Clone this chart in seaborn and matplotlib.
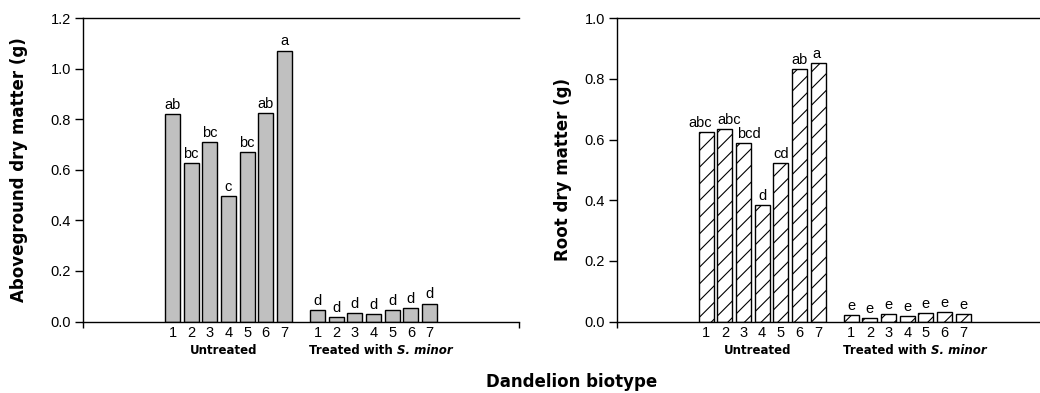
import matplotlib
matplotlib.use("Agg")
import matplotlib.pyplot as plt
import matplotlib.transforms as mtransforms
import numpy as np
import pandas as pd
import seaborn as sns

# ---------------- data ----------------
biotypes = ["1", "2", "3", "4", "5", "6", "7"]
groups = ["Untreated", "Treated with S. minor"]

above_untreated = [0.821, 0.626, 0.709, 0.497, 0.669, 0.823, 1.072]
above_treated = [0.045, 0.018, 0.034, 0.030, 0.045, 0.053, 0.071]
above_letters_untreated = ["ab", "bc", "bc", "c", "bc", "ab", "a"]
above_letters_treated = ["d", "d", "d", "d", "d", "d", "d"]

root_untreated = [0.624, 0.635, 0.588, 0.385, 0.522, 0.831, 0.851]
root_treated = [0.021, 0.010, 0.024, 0.018, 0.027, 0.030, 0.026]
root_letters_untreated = ["abc", "abc", "bcd", "d", "cd", "ab", "a"]
root_letters_treated = ["e", "e", "e", "e", "e", "e", "e"]

# ---------------- style ----------------
sns.set_style("ticks")
plt.rcParams["font.family"] = ["Liberation Sans", "DejaVu Sans"]
plt.rcParams["hatch.linewidth"] = 0.8
plt.rcParams["hatch.color"] = "black"
for k in ["text.color", "axes.labelcolor", "xtick.color", "ytick.color",
          "axes.edgecolor"]:
    plt.rcParams[k] = "black"
BOLD = ["DejaVu Sans"]

GROUP_GAP = 1.77  # distance between last bar of group 1 and first of group 2
pos_g1 = np.arange(len(biotypes), dtype=float)
pos_g2 = pos_g1[-1] + GROUP_GAP + np.arange(len(biotypes), dtype=float)
XLIM = (-4.79, -4.79 + 23.35)

fig = plt.figure(figsize=(10.4, 3.93), dpi=100)
ax1 = fig.add_axes([83 / 1040, 71.5 / 393, 436 / 1040, 303.3 / 393])
ax2 = fig.add_axes([616.7 / 1040, 71.5 / 393, 436 / 1040, 303.3 / 393])


def draw_panel(ax, vals_u, vals_t, let_u, let_t, ymax, ystep, ylabel, fill,
               hatch, labelpad, let_dx):
    df = pd.DataFrame({
        "pos": np.concatenate([pos_g1, pos_g2]),
        "value": vals_u + vals_t,
        "biotype": biotypes + biotypes,
        "group": [groups[0]] * 7 + [groups[1]] * 7,
    })
    sns.barplot(data=df, x="pos", y="value", native_scale=True, width=0.8,
                color=fill, saturation=1, edgecolor="black", linewidth=1.0,
                errorbar=None, hatch=hatch, ax=ax)
    ax.set_xlim(*XLIM)
    ax.set_ylim(0, ymax)
    yt = np.arange(0, ymax + 1e-9, ystep)
    ax.set_yticks(yt)
    ax.set_yticklabels([f"{v:.1f}" for v in yt], fontsize=10.5)
    ax.tick_params(axis="y", direction="out", length=5.5, width=1, pad=3,
                   colors="black")

    # significance letters
    for i, (x, v, l) in enumerate(zip(df["pos"], df["value"], let_u + let_t)):
        ax.annotate(l, (x, v), xytext=(let_dx[i], 1.5), textcoords="offset points",
                    ha="center", va="bottom", fontsize=10.5, color="black")

    # biotype numbers as tick labels (no tick marks)
    ax.set_xticks(list(pos_g1) + list(pos_g2))
    ax.set_xticklabels(biotypes + biotypes, fontsize=10.5)
    ax.tick_params(axis="x", which="major", length=0, pad=3, colors="black")
    # minor tick marks at group centres and axis ends
    ax.set_xticks([XLIM[0], pos_g1[3], pos_g2[3], XLIM[1]], minor=True)
    ax.tick_params(axis="x", which="minor", direction="out", length=4, width=1,
                   colors="black")

    # group labels
    trans = mtransforms.blended_transform_factory(ax.transData, ax.transAxes)
    ax.text(pos_g1[3] - 0.25, -0.094, groups[0], transform=trans, ha="center",
            va="center", fontsize=8.5, fontweight="bold", family=BOLD)
    t1 = ax.text(pos_g2[3] + 1.26, -0.094, "Treated with ", transform=trans,
                 ha="right", va="center", fontsize=8.5, fontweight="bold",
                 family=BOLD)
    ax.annotate("S. minor", xy=(1, 0), xycoords=t1, ha="left", va="bottom",
                fontsize=8.5, fontweight="bold", fontstyle="italic", family=BOLD)

    ax.set_xlabel("")
    ax.set_ylabel(ylabel, fontsize=12, fontweight="bold", family=BOLD,
                  labelpad=labelpad, color="black")
    for s in ["left", "top", "bottom"]:
        ax.spines[s].set_visible(True)
        ax.spines[s].set_linewidth(1.0)
        ax.spines[s].set_color("black")
    ax.spines["right"].set_visible(False)


draw_panel(ax1, above_untreated, above_treated, above_letters_untreated,
           above_letters_treated, 1.2, 0.2, "Aboveground dry matter (g)",
           "#c0c0c0", None, 16, [0] * 14)
draw_panel(ax2, root_untreated, root_treated, root_letters_untreated,
           root_letters_treated, 1.0, 0.2, "Root dry matter (g)",
           "white", "//", 9, [-4, 3, 4, 0, 0, 0, -1.5] + [0] * 7)

fig.text(572 / 1040, 1 - 382 / 393, "Dandelion biotype", ha="center", va="center",
         fontsize=12, fontweight="bold", family=BOLD, color="black")

fig.savefig("out.png", dpi=100)
